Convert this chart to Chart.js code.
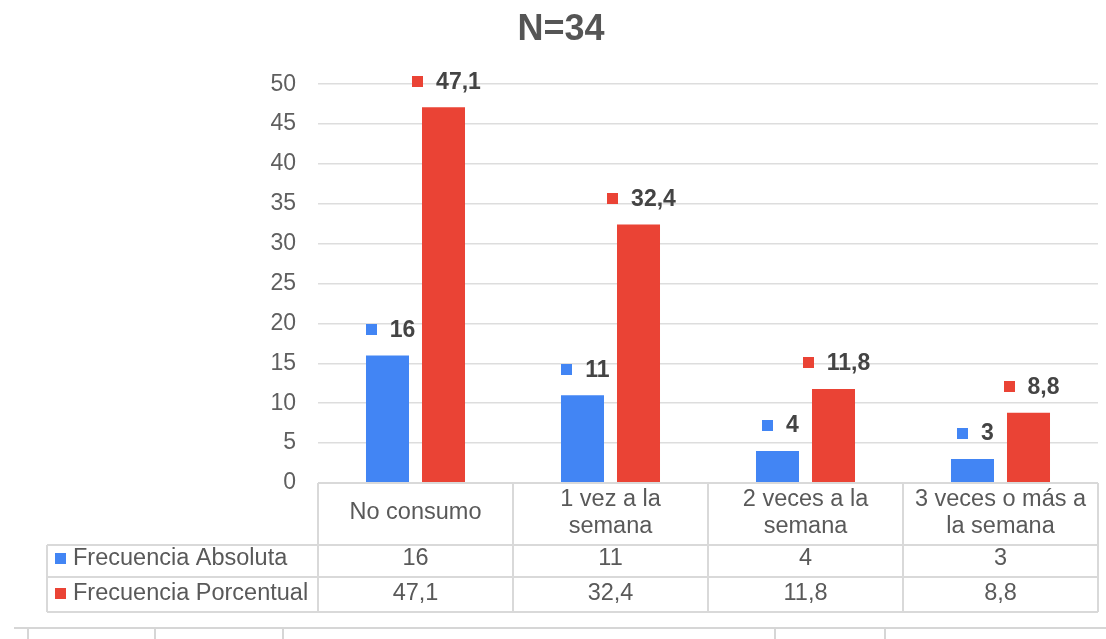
<!DOCTYPE html>
<html>
<head>
<meta charset="utf-8">
<script src="https://cdn.jsdelivr.net/npm/chart.js@4/dist/chart.umd.min.js"></script>
<style>
  html, body { margin: 0; padding: 0; background: #ffffff; }
  #wrap { width: 1106px; height: 639px; position: relative; }
</style>
</head>
<body>
<div id="wrap"><canvas id="chart" width="1106" height="639"></canvas></div>
<script>
// Consumption frequency, N=34
const categories = [
  ['No consumo'],
  ['1 vez a la', 'semana'],
  ['2 veces a la', 'semana'],
  ['3 veces o más a', 'la semana']
];
const seriesNames = ['Frecuencia Absoluta', 'Frecuencia Porcentual'];
const absoluteValues = [16, 11, 4, 3];
const percentValues = [47.1, 32.4, 11.8, 8.8];
const yTicks = [0, 5, 10, 15, 20, 25, 30, 35, 40, 45, 50];
const seriesColors = ['#4285F4', '#EA4335'];

const FONT = '"Liberation Sans", Arial, sans-serif';
const fmt = v => String(v).replace('.', ',');

// Value labels: a small colour key followed by the bold value, above each bar
const valueLabels = {
  id: 'valueLabels',
  afterDatasetsDraw(chart) {
    const ctx = chart.ctx;
    ctx.save();
    ctx.font = 'bold 23px ' + FONT;
    ctx.textBaseline = 'middle';
    ctx.textAlign = 'left';
    chart.data.datasets.forEach((ds, di) => {
      const meta = chart.getDatasetMeta(di);
      meta.data.forEach((bar, i) => {
        const txt = fmt(ds.data[i]);
        const tw = ctx.measureText(txt).width;
        const sq = 11, gap = 13;
        const w = sq + gap + tw;
        const left = bar.x + 3 - w / 2;
        const cy = bar.y - 26;
        ctx.fillStyle = seriesColors[di];
        ctx.fillRect(Math.round(left), Math.round(cy - sq / 2), sq, sq);
        ctx.fillStyle = '#444444';
        ctx.fillText(txt, left + sq + gap, cy + 1);
      });
    });
    ctx.restore();
  }
};

// Data table under the plot: category header row plus one row per series
const dataTable = {
  id: 'dataTable',
  afterDraw(chart) {
    const ctx = chart.ctx;
    const xs = chart.scales.x;
    const area = chart.chartArea;
    const n = categories.length;
    const colW = (area.right - area.left) / n;
    const top = area.bottom;
    const headBottom = 545;
    const rowBottoms = [577, 612];
    const rowCenters = [558, 593];
    const tableLeft = 47;

    ctx.save();
    ctx.strokeStyle = '#d9d9d9';
    ctx.lineWidth = 2;
    const line = (x1, y1, x2, y2) => {
      ctx.beginPath(); ctx.moveTo(x1, y1); ctx.lineTo(x2, y2); ctx.stroke();
    };
    // horizontal borders
    line(area.left, top, area.right, top);
    line(tableLeft, headBottom, area.right, headBottom);
    rowBottoms.forEach(y => line(tableLeft, y, area.right, y));
    // vertical borders
    for (let i = 0; i <= n; i++) {
      const x = area.left + i * colW;
      line(x, top, x, rowBottoms[rowBottoms.length - 1]);
    }
    line(tableLeft, headBottom, tableLeft, rowBottoms[rowBottoms.length - 1]);

    ctx.fillStyle = '#595959';
    ctx.font = '23.5px ' + FONT;
    ctx.textAlign = 'center';
    ctx.textBaseline = 'middle';
    // category header
    categories.forEach((lines, i) => {
      const cx = xs.getPixelForValue(i);
      const lh = 27;
      const mid = (top + headBottom) / 2 - 2;
      const start = mid - (lines.length - 1) * lh / 2;
      lines.forEach((t, k) => ctx.fillText(t, cx, start + k * lh + 1));
    });
    // series rows
    const seriesRows = [absoluteValues, percentValues];
    seriesRows.forEach((vals, r) => {
      const cy = rowCenters[r];
      ctx.textAlign = 'center';
      ctx.fillStyle = '#595959';
      vals.forEach((v, i) => ctx.fillText(fmt(v), xs.getPixelForValue(i), cy + 1));
      ctx.fillStyle = seriesColors[r];
      ctx.fillRect(55, Math.round(cy - 5.5), 11, 11);
      ctx.fillStyle = '#595959';
      ctx.textAlign = 'left';
      ctx.fillText(seriesNames[r], 73, cy + 1);
    });

    // sheet cell borders along the bottom edge
    ctx.strokeStyle = '#d6d6d6';
    ctx.lineWidth = 2;
    line(14, 628, chart.width, 628);
    [28, 155, 283, 775, 885].forEach(x => line(x, 628, x, chart.height));
    ctx.restore();
  }
};

new Chart(document.getElementById('chart'), {
  type: 'bar',
  data: {
    labels: categories.map(c => c.join(' ')),
    datasets: [
      { label: seriesNames[0], data: absoluteValues, backgroundColor: seriesColors[0] },
      { label: seriesNames[1], data: percentValues, backgroundColor: seriesColors[1] }
    ]
  },
  options: {
    responsive: false,
    animation: false,
    events: [],
    datasets: { bar: { categoryPercentage: 0.5744, barPercentage: 0.768 } },
    layout: { padding: { left: 24, right: 8, top: 0, bottom: 94 } },
    plugins: {
      legend: { display: false },
      tooltip: { enabled: false },
      title: {
        display: true,
        text: 'N=34',
        color: '#555555',
        font: { family: FONT, size: 36, weight: 'bold', lineHeight: 1.2 },
        padding: { top: 8, bottom: 33 }
      }
    },
    scales: {
      x: {
        grid: { display: false },
        border: { display: false },
        ticks: { display: false },
        afterFit(scale) { scale.height = 62; }
      },
      y: {
        min: 0,
        max: 50,
        afterBuildTicks(scale) { scale.ticks = yTicks.map(v => ({ value: v })); },
        afterFit(scale) { scale.width = 294; },
        grid: { color: '#dddddd', lineWidth: 1.5, drawTicks: false },
        border: { display: false },
        ticks: {
          padding: 22,
          color: '#5f5f5f',
          font: { family: FONT, size: 23 }
        }
      }
    }
  },
  plugins: [valueLabels, dataTable]
});
</script>
</body>
</html>
